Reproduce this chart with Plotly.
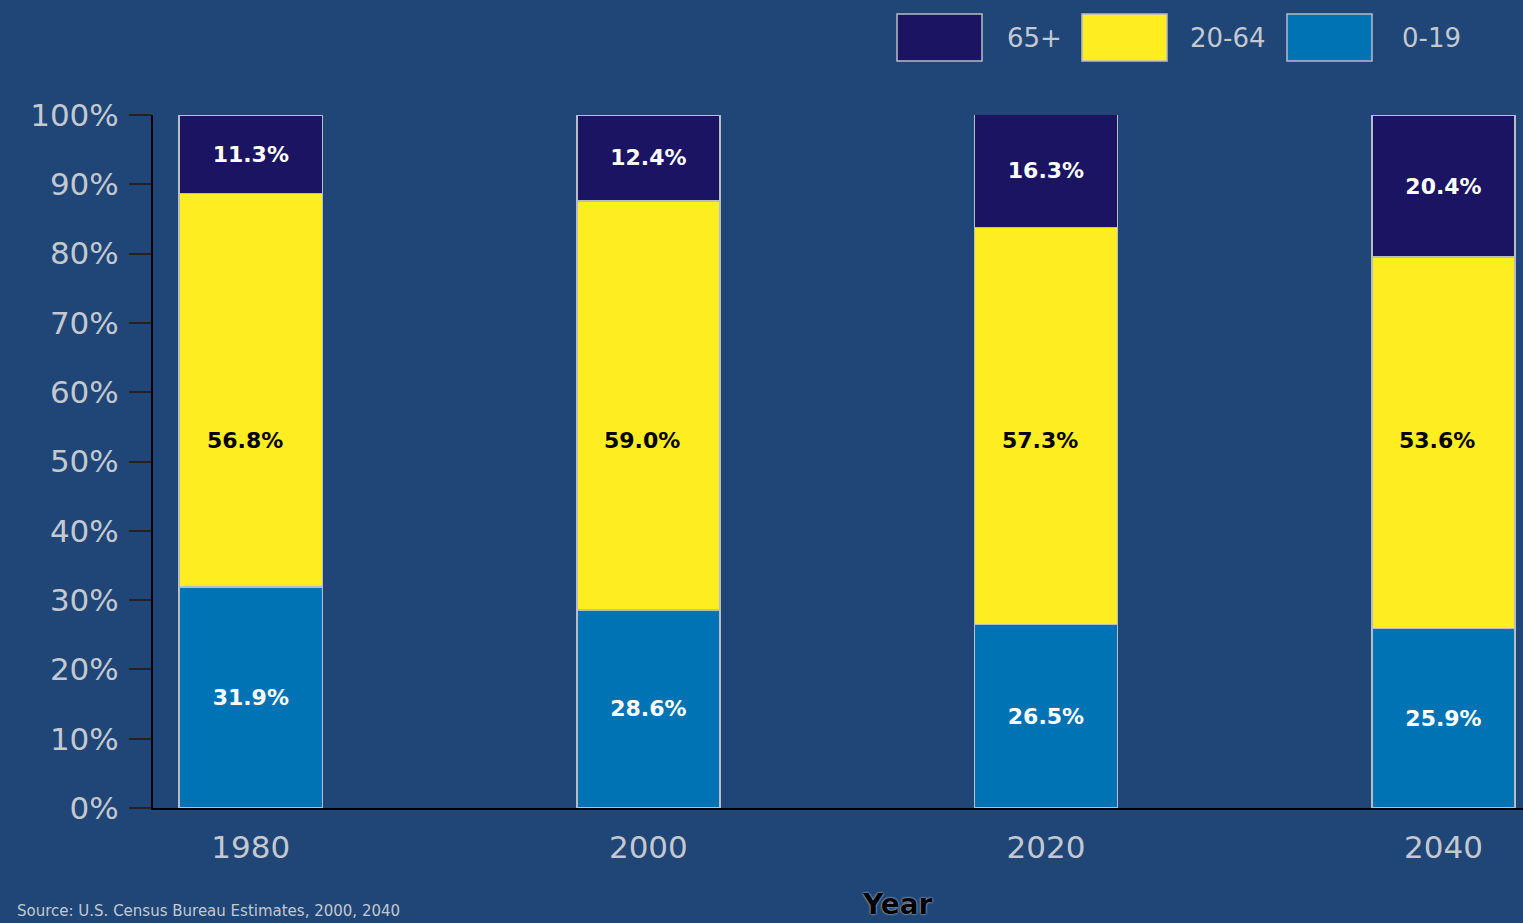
import plotly.graph_objects as go

years = ["1980", "2000", "2020", "2040"]
series_names = ["0-19", "20-64", "65+"]
age_0_19 = [31.9, 28.6, 26.5, 25.9]
age_20_64 = [56.8, 59.0, 57.3, 53.6]
age_65_plus = [11.3, 12.4, 16.3, 20.4]
y_ticks = [0, 10, 20, 30, 40, 50, 60, 70, 80, 90, 100]
y_tick_labels = [f"{v}%" for v in y_ticks]

colors = {"0-19": "#0073b4", "20-64": "#feed20", "65+": "#1b1462"}
bg = "#1f4677"
tick_col = "#c4c8d0"

W, H = 1523, 923
L, R, T, B = 153, 0, 115, 115
pw, ph = W - L - R, H - T - B

def px_x(p):
    return (p - L) / pw

def px_y(p):
    return (H - B - p) / ph

fig = go.Figure()
label_font = dict(family="DejaVu Sans", size=22, color="white")
values = {"0-19": age_0_19, "20-64": age_20_64, "65+": age_65_plus}
for name in series_names:
    vals = values[name]
    fig.add_trace(go.Bar(
        x=years, y=vals, name=name,
        marker=dict(color=colors[name], line=dict(color="#b8bcc4", width=1.5)),
        width=0.36,
        text=[f"<b>{v:.1f}%</b>" if name != "20-64" else "" for v in vals],
        textposition="inside", insidetextanchor="middle",
        textfont=label_font, showlegend=False,
        hoverinfo="x+y+name",
    ))

annotations = []
for i, v in enumerate(age_20_64):
    annotations.append(dict(
        x=i, y=53, xref="x", yref="y", text=f"<b>{v:.1f}%</b>",
        showarrow=False, font=dict(family="DejaVu Sans", size=22, color="black"),
        xshift=-6,
    ))

# Legend drawn manually (large swatches)
legend_order = ["65+", "20-64", "0-19"]
sw_left = [897, 1082, 1287]
lab_left = [1005, 1188, 1400]
shapes = []
for i, name in enumerate(legend_order):
    shapes.append(dict(
        type="rect", xref="paper", yref="paper",
        x0=px_x(sw_left[i]), x1=px_x(sw_left[i] + 85),
        y0=px_y(61), y1=px_y(14),
        fillcolor=colors[name], line=dict(color="#b8bcc4", width=1.5),
    ))
    annotations.append(dict(
        x=px_x(lab_left[i]), y=px_y(38), xref="paper", yref="paper",
        xanchor="left", yanchor="middle", text=name, showarrow=False,
        font=dict(family="DejaVu Sans", size=26, color=tick_col),
    ))

annotations.append(dict(
    x=px_x(898), y=px_y(904), xref="paper", yref="paper",
    xanchor="center", yanchor="middle", text="<b>Year</b>", showarrow=False,
    font=dict(family="DejaVu Sans", size=28, color="black",
              shadow="0px 0px 2px white"),
))
annotations.append(dict(
    x=px_x(15), y=px_y(911), xref="paper", yref="paper",
    xanchor="left", yanchor="middle",
    text="Source: U.S. Census Bureau Estimates, 2000, 2040",
    showarrow=False, font=dict(family="DejaVu Sans", size=15, color=tick_col),
))

fig.update_layout(
    width=W, height=H, barmode="stack",
    paper_bgcolor=bg, plot_bgcolor=bg,
    margin=dict(l=L, r=R, t=T, b=B),
    shapes=shapes, annotations=annotations,
    showlegend=False,
    xaxis=dict(
        type="category", range=[-0.246, 3.2], showgrid=False,
        showline=True, linecolor="black", linewidth=2,
        ticks="", tickfont=dict(family="DejaVu Sans", size=31, color=tick_col),
        ticklabelstandoff=11, zeroline=False,
    ),
    yaxis=dict(
        range=[0, 100], tickvals=y_ticks, ticktext=y_tick_labels,
        showgrid=False, showline=True, linecolor="black", linewidth=2,
        ticks="outside", ticklen=22, tickcolor="#222", tickwidth=2,
        tickfont=dict(family="DejaVu Sans", size=31, color=tick_col),
        ticklabelstandoff=4, zeroline=False,
    ),
)

fig.write_html("out.html", config={"displayModeBar": False},
               post_script="document.body.style.margin='0';document.body.style.background='%s';" % bg)
